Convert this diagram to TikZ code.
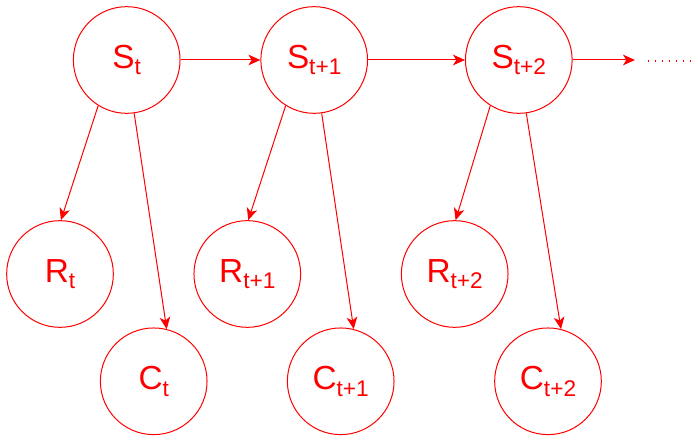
\documentclass[tikz,border=0pt]{standalone}
\usepackage{fontspec}
\setmainfont{Liberation Sans}
\usetikzlibrary{arrows.meta}
\definecolor{lred}{RGB}{255,0,0}
\newcommand{\lab}[2]{#1\raisebox{-5pt}{\fontsize{17pt}{19pt}\selectfont #2}}
\tikzset{
  var/.style={circle,draw=lred,line width=0.75pt,minimum size=80pt,inner sep=0pt,
    text=lred,font=\fontsize{25pt}{28pt}\selectfont},
  link/.style={draw=lred,line width=0.75pt,-{Stealth[length=9pt,width=8pt,inset=2.5pt]}},
  dots/.style={draw=lred,line width=0.9pt,dash pattern=on 0.9pt off 4.4pt}
}
\begin{document}
\begin{tikzpicture}[x=0.75pt,y=-0.75pt]
\useasboundingbox (0,0) rectangle (694,438);
\node[var] (S0) at (126.7,60) {\lab{S}{t}};
\node[var] (S1) at (314.2,60) {\lab{S}{t+1}};
\node[var] (S2) at (518.8,60) {\lab{S}{t+2}};
\node[var] (R0) at (60,274) {\lab{R}{t}};
\node[var] (R1) at (247.3,274) {\lab{R}{t+1}};
\node[var] (R2) at (454.7,274) {\lab{R}{t+2}};
\node[var] (C0) at (153.7,381.3) {\lab{C}{t}};
\node[var] (C1) at (340.7,381.3) {\lab{C}{t+1}};
\node[var] (C2) at (548,381.3) {\lab{C}{t+2}};
\coordinate (end) at (635,60);
\coordinate (d1) at (647.5,61);
\coordinate (d2) at (690,61);
\draw[link] (S0.east) -- (S1.west);
\draw[link] (S1.east) -- (S2.west);
\draw[link] (S2.east) -- (end);
\draw[dots] (d1) -- (d2);
\foreach \i in {0,1,2}{
  \draw[link] (S\i.238.6) -- (R\i.89);
  \draw[link] (S\i.278.8) -- (C\i.76.3);
}
\end{tikzpicture}
\end{document}
